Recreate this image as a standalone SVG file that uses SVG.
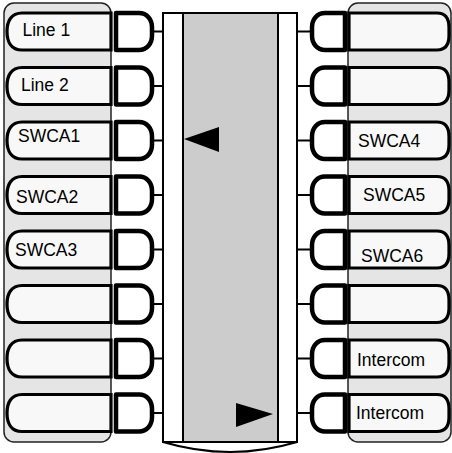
<svg xmlns="http://www.w3.org/2000/svg" width="452" height="453" viewBox="0 0 452 453">
<defs>
<style>
.panel{fill:#e5e5e5;stroke:#222;stroke-width:1.5}
.btn{fill:#f8f8f8;stroke:#000;stroke-width:3.2}
.jack{fill:#fff;stroke:#000;stroke-width:4.5;stroke-linejoin:round}
.wire{fill:none;stroke:#000;stroke-width:2}
.lbl{font-family:"Liberation Sans",Arial,sans-serif;font-size:17.5px;fill:#000}
</style>
<path id="lb" d="M111,-18.5 H22 C11,-18.5 7,-10 7,0 C7,10 11,18.5 22,18.5 H111 Z"/>
<path id="rb" d="M349,-18.5 H437 Q449,-18.5 449,-4 V4 Q449,18.5 437,18.5 H349 Z"/>
<path id="lj" d="M116,-18.5 H139 C147,-18.5 152,-12 152,-4 V4 C152,12 147,18.5 139,18.5 H116 Z"/>
<path id="rj" d="M345,-18.5 H325 C317,-18.5 312,-12 312,-4 V4 C312,12 317,18.5 325,18.5 H345 Z"/>
</defs>
<rect width="452" height="453" fill="#fff"/>
<g id="left-panel"><rect class="panel" x="4" y="3" width="107" height="439" rx="10"/></g>
<g id="right-panel"><rect class="panel" x="348" y="3" width="103" height="439" rx="10"/></g>
<g id="center">
<rect x="163" y="13" width="134" height="429" fill="#fff" stroke="#000" stroke-width="2"/>
<rect x="183" y="13" width="95" height="429" fill="#ccc" stroke="#000" stroke-width="2"/>
<path d="M163,442 Q230,462 297,442" fill="none" stroke="#000" stroke-width="2"/>
<polygon points="184,139 219,127 219,152" fill="#000"/>
<polygon points="273,414 236,403 236,427" fill="#000"/>
</g>
<g id="connectors">
<path class="wire" d="M152,31.5H163M152,86H163M152,140.5H163M152,195H163M152,249.5H163M152,304H163M152,358.5H163M152,413H163"/>
<path class="wire" d="M297,31.5H312M297,86H312M297,140.5H312M297,195H312M297,249.5H312M297,304H312M297,358.5H312M297,413H312"/>
</g>
<g id="left-buttons">
<g id="btn-line1"><use href="#lb" class="btn" y="31.5"/><use href="#lj" class="jack" y="31.5"/><text class="lbl" x="22.5" y="36">Line 1</text></g>
<g id="btn-line2"><use href="#lb" class="btn" y="86"/><use href="#lj" class="jack" y="86"/><text class="lbl" x="21" y="91">Line 2</text></g>
<g id="btn-swca1"><use href="#lb" class="btn" y="140.5"/><use href="#lj" class="jack" y="140.5"/><text class="lbl" x="18" y="142">SWCA1</text></g>
<g id="btn-swca2"><use href="#lb" class="btn" y="195"/><use href="#lj" class="jack" y="195"/><text class="lbl" x="16" y="203">SWCA2</text></g>
<g id="btn-swca3"><use href="#lb" class="btn" y="249.5"/><use href="#lj" class="jack" y="249.5"/><text class="lbl" x="15" y="256">SWCA3</text></g>
<g id="btn-l6"><use href="#lb" class="btn" y="304"/><use href="#lj" class="jack" y="304"/></g>
<g id="btn-l7"><use href="#lb" class="btn" y="358.5"/><use href="#lj" class="jack" y="358.5"/></g>
<g id="btn-l8"><use href="#lb" class="btn" y="413"/><use href="#lj" class="jack" y="413"/></g>
</g>
<g id="right-buttons">
<g id="btn-r1"><use href="#rb" class="btn" y="31.5"/><use href="#rj" class="jack" y="31.5"/></g>
<g id="btn-r2"><use href="#rb" class="btn" y="86"/><use href="#rj" class="jack" y="86"/></g>
<g id="btn-swca4"><use href="#rb" class="btn" y="140.5"/><use href="#rj" class="jack" y="140.5"/><text class="lbl" x="358" y="147">SWCA4</text></g>
<g id="btn-swca5"><use href="#rb" class="btn" y="195"/><use href="#rj" class="jack" y="195"/><text class="lbl" x="363" y="201">SWCA5</text></g>
<g id="btn-swca6"><use href="#rb" class="btn" y="249.5"/><use href="#rj" class="jack" y="249.5"/><text class="lbl" x="361" y="262">SWCA6</text></g>
<g id="btn-r6"><use href="#rb" class="btn" y="304"/><use href="#rj" class="jack" y="304"/></g>
<g id="btn-intercom1"><use href="#rb" class="btn" y="358.5"/><use href="#rj" class="jack" y="358.5"/><text class="lbl" x="357" y="366">Intercom</text></g>
<g id="btn-intercom2"><use href="#rb" class="btn" y="413"/><use href="#rj" class="jack" y="413"/><text class="lbl" x="356" y="419">Intercom</text></g>
</g>
</svg>
